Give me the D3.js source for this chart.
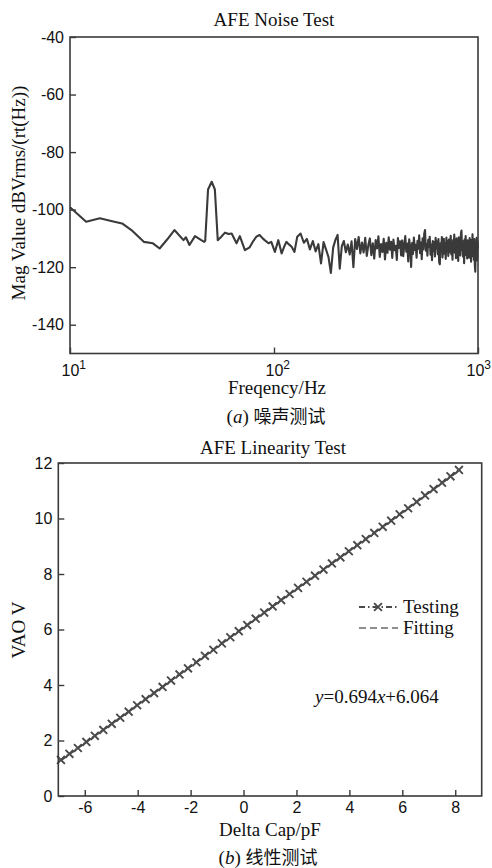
<!DOCTYPE html>
<html>
<head>
<meta charset="utf-8">
<script src="https://cdn.jsdelivr.net/npm/d3@7"></script>
<style>
  html, body { margin: 0; padding: 0; background: #fff; }
  svg { display: block; }
  .tick text { font-family: "Liberation Sans", Arial, sans-serif; font-size: 16px; fill: #111; }
  .serif { font-family: "Liberation Serif", "Times New Roman", serif; fill: #111; }
</style>
</head>
<body>
<script>
// ---------- Data: AFE Noise Test ----------
const noiseFreq = [
  10, 12, 14, 16.5, 18, 20, 23, 25.5, 27.5, 30, 32.5, 36, 37, 38.5, 41, 44, 45.5, 46, 47.5, 49.5, 51.3, 53,
  55, 57.5, 60, 62, 65.5, 68, 72, 76, 79, 82, 85, 88, 90, 94, 97, 101, 105, 109, 112, 115, 118, 122, 126,
  130, 135, 140, 145, 150, 155, 160, 165, 170, 175, 180, 185, 190, 195, 200, 205, 210, 215, 220, 225,
  230, 235, 240, 245, 250, 255, 260, 265, 270, 275, 280, 285, 290, 295, 300, 305, 310, 315, 320, 325,
  330, 335, 340, 345, 350, 355, 360, 365, 370, 375, 380, 385, 390, 395, 400, 405, 410, 415, 420, 425,
  430, 435, 440, 445, 450, 455, 460, 465, 470, 475, 480, 485, 490, 495, 500, 505, 510, 515, 520, 525,
  530, 535, 540, 545, 550, 555, 560, 565, 570, 575, 580, 585, 590, 595, 600, 605, 610, 615, 620, 625,
  630, 635, 640, 645, 650, 655, 660, 665, 670, 675, 680, 685, 690, 695, 700, 705, 710, 715, 720, 725,
  730, 735, 740, 745, 750, 755, 760, 765, 770, 775, 780, 785, 790, 795, 800, 805, 810, 815, 820, 825,
  830, 835, 840, 845, 850, 855, 860, 865, 870, 875, 880, 885, 890, 895, 900, 905, 910, 915, 920, 925,
  930, 935, 940, 945, 950, 955, 960, 965, 970, 975, 980, 985, 990, 995, 1000
];
const noiseMag = [
  -99.2, -104.2, -103.0, -104.2, -104.8, -107.1, -111.2, -111.7, -113.5, -110.3, -107.1, -110.6, -109.6, -112.3, -109.2, -110.6, -111.2, -110.8, -93.0, -90.3, -93.0, -110.6,
  -109.5, -108.0, -108.5, -108.3, -111.7, -109.2, -114.1, -113.1, -111.0, -109.4, -108.8, -110.0, -110.6, -111.7, -111.2, -114.7, -110.6, -115.2, -113.0, -111.2, -112.0, -112.9, -114.7,
  -109.4, -108.3, -111.5, -110.2, -113.8, -110.9, -114.5, -112.0, -118.7, -111.3, -113.9, -116.5, -122.0, -113.2, -110.5, -108.8, -120.5, -112.7, -110.9, -114.8,
  -112.1, -115.6, -111.0, -120.0, -110.2, -113.7, -109.5, -115.2, -111.4, -114.9, -109.8, -116.1, -112.3, -110.0, -115.8, -111.7, -117.0, -110.6, -113.5, -109.3,
  -116.4, -112.0, -114.7, -110.1, -117.3, -111.5, -115.0, -109.6, -113.9, -111.2, -116.8, -110.4, -114.1, -112.6, -117.5, -109.9, -113.3, -111.0, -115.9, -110.7,
  -116.2, -112.4, -109.2, -114.6, -111.8, -118.0, -110.3, -113.1, -119.9, -111.6, -115.4, -109.7, -114.0, -112.2, -116.7, -110.8, -113.6, -108.9, -115.1, -111.4,
  -117.2, -110.0, -113.8, -108.4, -107.1, -114.3, -111.9, -116.0, -110.5, -113.0, -109.4, -115.7, -112.1, -117.6, -110.9, -114.4, -111.3, -116.3, -109.8, -113.4,
  -111.1, -115.5, -110.2, -118.3, -119.0, -111.7, -114.2, -109.5, -116.6, -112.5, -110.1, -115.3, -111.6, -117.1, -109.7, -113.9, -111.0, -116.1, -110.4, -114.8,
  -112.3, -109.1, -115.6, -111.8, -117.4, -110.6, -113.2, -108.7, -115.0, -111.5, -116.9, -110.0, -114.5, -112.0, -117.8, -109.6, -113.7, -111.2, -115.9, -108.3,
  -107.3, -114.1, -110.8, -116.4, -111.9, -118.6, -110.3, -113.5, -109.2, -115.8, -111.4, -117.0, -110.7, -114.3, -112.1, -116.7, -109.9, -113.0, -111.3, -118.1,
  -110.5, -114.9, -108.6, -116.2, -111.7, -117.5, -110.2, -119.3, -121.6, -112.4, -115.1, -109.8, -117.7, -111.0, -113.6
];
const noiseYTicks = [-40, -60, -80, -100, -120, -140];
const noiseXTicks = [10, 100, 1000];
const noiseXTickExp = ["1", "2", "3"];

// ---------- Data: AFE Linearity Test ----------
const capX = [
  -6.90, -6.58, -6.26, -5.94, -5.62, -5.30, -4.98, -4.66, -4.34, -4.02, -3.70, -3.38, -3.06, -2.74, -2.42, -2.10,
  -1.78, -1.46, -1.14, -0.82, -0.50, -0.18, 0.14, 0.46, 0.78, 1.10, 1.42, 1.74, 2.06, 2.38, 2.70, 3.02,
  3.34, 3.66, 3.98, 4.30, 4.62, 4.94, 5.26, 5.58, 5.90, 6.22, 6.54, 6.86, 7.18, 7.50, 7.82, 8.14
];
const vaoTesting = [
  1.30, 1.52, 1.73, 1.95, 2.17, 2.38, 2.60, 2.82, 3.04, 3.27, 3.49, 3.71, 3.93, 4.16, 4.38, 4.60,
  4.82, 5.05, 5.27, 5.50, 5.72, 5.94, 6.16, 6.39, 6.61, 6.83, 7.06, 7.28, 7.50, 7.72, 7.94, 8.16,
  8.38, 8.60, 8.82, 9.04, 9.26, 9.48, 9.70, 9.92, 10.15, 10.37, 10.60, 10.83, 11.06, 11.29, 11.52, 11.75
];
const fitSlope = 0.694;
const fitIntercept = 6.064;
const fitRange = [-6.90, 8.14];
const linXTicks = [-6, -4, -2, 0, 2, 4, 6, 8];
const linYTicks = [0, 2, 4, 6, 8, 10, 12];
const legendLabels = ["Testing", "Fitting"];

// ---------- Drawing ----------
const W = 492, H = 868;
const svg = d3.select("body").append("svg").attr("width", W).attr("height", H);
const frameColor = "#3a3a3a";
const fmt = d => String(d);

// ===== Chart (a) =====
const xN = d3.scaleLog().domain([10, 1000]).range([70, 478]);
const yN = d3.scaleLinear().domain([-150, -40]).range([353.5, 37]);

const gA = svg.append("g");
gA.append("text").attr("class", "serif").attr("x", 274).attr("y", 26)
  .attr("text-anchor", "middle").attr("font-size", 19).text("AFE Noise Test");

const yAxA = gA.append("g").attr("transform", `translate(${xN.range()[0]},0)`)
  .call(d3.axisLeft(yN).tickValues(noiseYTicks).tickSize(-6).tickPadding(6).tickFormat(fmt));
const xAxA = gA.append("g").attr("transform", `translate(0,${yN.range()[0]})`)
  .call(d3.axisBottom(xN).tickValues(noiseXTicks).tickSize(-6).tickFormat(""));
[yAxA, xAxA].forEach(a => {
  a.select(".domain").remove();
  a.selectAll(".tick line").attr("stroke", frameColor).attr("stroke-width", 1.4);
});
xAxA.selectAll(".tick").each(function(d, i) {
  const last = i === noiseXTicks.length - 1;
  const t = d3.select(this).append("text").attr("y", 22).attr("fill", "#111")
    .attr("font-family", "Liberation Sans, Arial, sans-serif").attr("font-size", 16)
    .attr("text-anchor", "start").attr("x", last ? -12 : -9);
  t.append("tspan").text("10");
  t.append("tspan").attr("dy", -7).attr("font-size", 12).text(noiseXTickExp[i]);
});

const lineN = d3.line().x((d, i) => xN(noiseFreq[i])).y(d => yN(d));
gA.append("path").datum(noiseMag).attr("d", lineN)
  .attr("fill", "none").attr("stroke", "#3a3a3a").attr("stroke-width", 2.1)
  .attr("stroke-linejoin", "round");

gA.append("rect").attr("x", 70).attr("y", 37).attr("width", 408).attr("height", 316.5)
  .attr("fill", "none").attr("stroke", frameColor).attr("stroke-width", 1.6);

gA.append("text").attr("class", "serif").attr("font-size", 19)
  .attr("transform", "translate(25,193) rotate(-90)").attr("text-anchor", "middle")
  .text("Mag Value dBVrms/(rt(Hz))");
gA.append("text").attr("class", "serif").attr("font-size", 19)
  .attr("x", 277).attr("y", 394).attr("text-anchor", "middle").text("Freqency/Hz");
const capA = gA.append("text").attr("class", "serif").attr("font-size", 19)
  .attr("x", 276).attr("y", 423).attr("text-anchor", "middle");
capA.append("tspan").text("(");
capA.append("tspan").attr("font-style", "italic").text("a");
capA.append("tspan").text(") ");
capA.append("tspan").attr("font-family", "Noto Sans CJK SC").attr("font-size", 18).text("噪声测试");

// ===== Chart (b) =====
const xL = d3.scaleLinear().domain([-7, 9]).range([58.3, 481.7]);
const yL = d3.scaleLinear().domain([0, 12]).range([796, 463]);

const gB = svg.append("g");
gB.append("text").attr("class", "serif").attr("x", 273).attr("y", 454)
  .attr("text-anchor", "middle").attr("font-size", 19).text("AFE Linearity Test");

const yAxB = gB.append("g").attr("transform", `translate(${xL.range()[0]},0)`)
  .call(d3.axisLeft(yL).tickValues(linYTicks).tickSize(-6).tickPadding(6).tickFormat(fmt));
const xAxB = gB.append("g").attr("transform", `translate(0,${yL.range()[0]})`)
  .call(d3.axisBottom(xL).tickValues(linXTicks).tickSize(-6).tickPadding(6).tickFormat(fmt));
[yAxB, xAxB].forEach(a => {
  a.select(".domain").remove();
  a.selectAll(".tick line").attr("stroke", frameColor).attr("stroke-width", 1.4);
});

// Fitting line (dashed)
const fitPts = fitRange.map(x => [x, fitSlope * x + fitIntercept]);
gB.append("path").datum(fitPts)
  .attr("d", d3.line().x(d => xL(d[0])).y(d => yL(d[1])))
  .attr("fill", "none").attr("stroke", "#6a6a6a").attr("stroke-width", 1.6)
  .attr("stroke-dasharray", "7,4");

// Testing line (dash-dot) + x markers
const lineT = d3.line().x((d, i) => xL(capX[i])).y(d => yL(d));
gB.append("path").datum(vaoTesting).attr("d", lineT)
  .attr("fill", "none").attr("stroke", "#4a4a4a").attr("stroke-width", 1.9)
  .attr("stroke-dasharray", "5,2,1.5,2");
const cross = d3.symbol().type(d3.symbolX).size(42);
gB.append("g").selectAll("path.mk").data(vaoTesting).join("path").attr("class", "mk")
  .attr("transform", (d, i) => `translate(${xL(capX[i])},${yL(d)})`)
  .attr("d", cross).attr("fill", "none").attr("stroke", "#4a4a4a").attr("stroke-width", 1.9);

gB.append("rect").attr("x", 58.3).attr("y", 463).attr("width", 423.4).attr("height", 333)
  .attr("fill", "none").attr("stroke", frameColor).attr("stroke-width", 1.6);

// Legend
const leg = gB.append("g");
leg.append("line").attr("x1", 359).attr("x2", 398).attr("y1", 607).attr("y2", 607)
  .attr("stroke", "#4a4a4a").attr("stroke-width", 1.9).attr("stroke-dasharray", "6,3,1.5,3");
leg.append("path").attr("transform", "translate(378,607)").attr("d", cross)
  .attr("fill", "none").attr("stroke", "#4a4a4a").attr("stroke-width", 1.9);
leg.append("line").attr("x1", 359).attr("x2", 398).attr("y1", 628).attr("y2", 628)
  .attr("stroke", "#6a6a6a").attr("stroke-width", 1.7).attr("stroke-dasharray", "7,4");
leg.selectAll("text.lg").data(legendLabels).join("text").attr("class", "serif lg")
  .attr("x", 403).attr("y", (d, i) => 613 + i * 21).attr("font-size", 19).text(d => d);

// Equation
const eq = gB.append("text").attr("class", "serif").attr("font-size", 19)
  .attr("x", 315).attr("y", 703);
eq.append("tspan").attr("font-style", "italic").text("y");
eq.append("tspan").text("=0.694");
eq.append("tspan").attr("font-style", "italic").text("x");
eq.append("tspan").text("+6.064");

gB.append("text").attr("class", "serif").attr("font-size", 19)
  .attr("transform", "translate(25,630) rotate(-90)").attr("text-anchor", "middle").text("VAO V");
gB.append("text").attr("class", "serif").attr("font-size", 19)
  .attr("x", 270).attr("y", 836).attr("text-anchor", "middle").text("Delta Cap/pF");
const capB = gB.append("text").attr("class", "serif").attr("font-size", 19)
  .attr("x", 268).attr("y", 864).attr("text-anchor", "middle");
capB.append("tspan").text("(");
capB.append("tspan").attr("font-style", "italic").text("b");
capB.append("tspan").text(") ");
capB.append("tspan").attr("font-family", "Noto Sans CJK SC").attr("font-size", 18).text("线性测试");
</script>
</body>
</html>
